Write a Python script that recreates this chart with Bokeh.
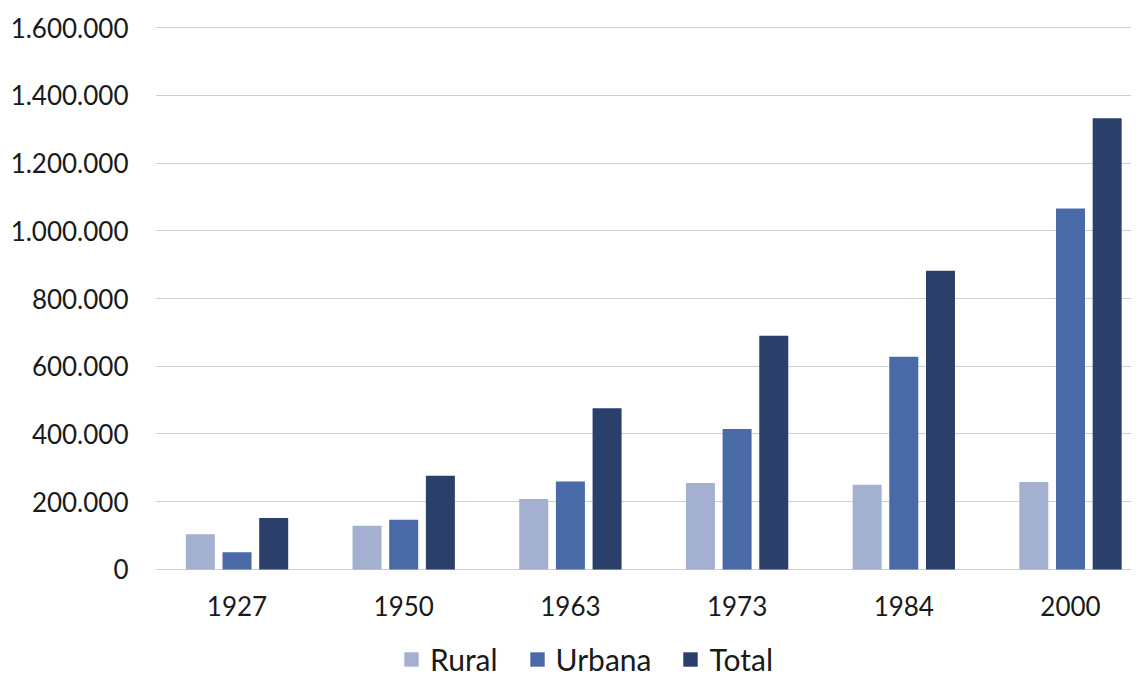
from bokeh.plotting import figure
from bokeh.models import Range1d, FixedTicker, Legend, LegendItem, ColumnDataSource
from bokeh.layouts import column
from bokeh.embed import file_html
from bokeh.resources import INLINE
import numpy as np

years = ["1927", "1950", "1963", "1973", "1984", "2000"]
rural = [104000, 129000, 208000, 255000, 250000, 258000]
urbana = [51000, 147000, 260000, 415000, 628000, 1066000]
total = [152000, 277000, 476000, 690000, 882000, 1332000]
y_ticks = [0, 200000, 400000, 600000, 800000, 1000000, 1200000, 1400000, 1600000]
y_labels = ["0", "200.000", "400.000", "600.000", "800.000", "1.000.000", "1.200.000", "1.400.000", "1.600.000"]

colors = ["#a3b0d0", "#4a69a7", "#2a406b"]
names = ["Rural", "Urbana", "Total"]
series = [rural, urbana, total]

FONT = "Lato"
idx = np.arange(len(years))

p = figure(frame_width=976, frame_height=544, output_backend="svg", toolbar_location=None,
           x_range=Range1d(-0.489, 5.366), y_range=Range1d(-3000, 1603000),
           min_border_left=155, min_border_right=0, min_border_top=26, min_border_bottom=56)
p.outline_line_color = None
p.background_fill_color = "white"
p.border_fill_color = "white"

offsets = [-0.22, 0.0, 0.22]
for vals, col, off in zip(series, colors, offsets):
    src = ColumnDataSource(dict(x=idx + off, top=vals))
    p.vbar(x="x", top="top", width=0.174, bottom=0, source=src, fill_color=col, line_color=None)

p.xgrid.grid_line_color = None
p.ygrid.grid_line_color = "#cfcfcf"
p.ygrid.grid_line_width = 1
p.ygrid.ticker = FixedTicker(ticks=y_ticks)

p.yaxis.ticker = FixedTicker(ticks=y_ticks)
p.yaxis.major_label_overrides = {t: l for t, l in zip(y_ticks, y_labels)}
p.yaxis.axis_line_color = None
p.yaxis.major_tick_line_color = None
p.yaxis.minor_tick_line_color = None
p.yaxis.major_label_text_font = FONT
p.yaxis.major_label_text_font_size = "26px"
p.yaxis.major_label_text_color = "#1a1a1a"
p.yaxis.major_label_standoff = 21

p.xaxis.ticker = FixedTicker(ticks=list(idx))
p.xaxis.major_label_overrides = {int(i): y for i, y in zip(idx, years)}
p.xaxis.axis_line_color = None
p.xaxis.major_tick_line_color = None
p.xaxis.minor_tick_line_color = None
p.xaxis.major_label_text_font = FONT
p.xaxis.major_label_text_font_size = "26px"
p.xaxis.major_label_text_color = "#1a1a1a"
p.xaxis.major_label_standoff = 19

# legend strip below the chart (swatches are zero-height bars, only used for the legend keys)
lg = figure(width=1131, height=56, output_backend="svg", toolbar_location=None,
            x_range=Range1d(0, 1), y_range=Range1d(0, 1),
            min_border_left=0, min_border_right=0, min_border_top=0, min_border_bottom=0)
lg.outline_line_color = None
lg.axis.visible = False
lg.grid.visible = False
swatches = []
for col in colors:
    swatches.append(lg.vbar(x=[0], top=[0], bottom=[0], width=0.0, fill_color=col, line_color=None))

legend = Legend(items=[LegendItem(label=n, renderers=[r]) for n, r in zip(names, swatches)],
                orientation="horizontal", location=(247, 5),
                label_text_font=FONT, label_text_font_size="30px", label_text_color="#1a1a1a",
                glyph_width=18, glyph_height=18, label_standoff=10, spacing=30,
                border_line_color=None, background_fill_alpha=0, padding=0, margin=0)
lg.add_layout(legend, "center")

open("out.html", "w").write(file_html(column(p, lg, spacing=0), INLINE))
